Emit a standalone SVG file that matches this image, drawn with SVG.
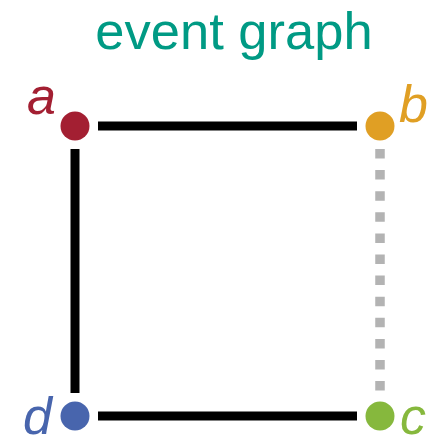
<svg xmlns="http://www.w3.org/2000/svg" width="432" height="445" viewBox="0 0 432 445">
<style>
.lbl{font-family:"Liberation Sans",Arial,sans-serif;font-style:italic;font-size:52px}
.edge{stroke:#000;stroke-width:9;fill:none}
.dot{stroke:#b3b3b3;stroke-width:9.5;stroke-dasharray:9.5 11.6;fill:none}
</style>
<rect width="432" height="445" fill="#fff"/>
<text x="234" y="49" text-anchor="middle" font-family="'Liberation Sans',Arial,sans-serif" font-size="52.5" fill="#009a84">event graph</text>
<g id="connectors">
<line class="edge" x1="98" y1="126" x2="357" y2="126"/>
<line class="edge" x1="75" y1="149" x2="75" y2="393"/>
<line class="edge" x1="98" y1="416" x2="357" y2="416"/>
<line class="dot" x1="380" y1="149" x2="380" y2="400"/>
</g>
<g id="a"><circle cx="75" cy="126" r="14.5" fill="#a31f32"/><text class="lbl" x="27" y="114" fill="#a31f32">a</text></g>
<g id="b"><circle cx="380" cy="126" r="14.5" fill="#e09f24"/><text class="lbl" x="399" y="122" fill="#e09f24">b</text></g>
<g id="c"><circle cx="380" cy="416" r="14.5" fill="#86b83d"/><text class="lbl" x="400" y="434" fill="#86b83d">c</text></g>
<g id="d"><circle cx="75" cy="416" r="14.5" fill="#4865ad"/><text class="lbl" x="23" y="434" fill="#4865ad">d</text></g>
</svg>
